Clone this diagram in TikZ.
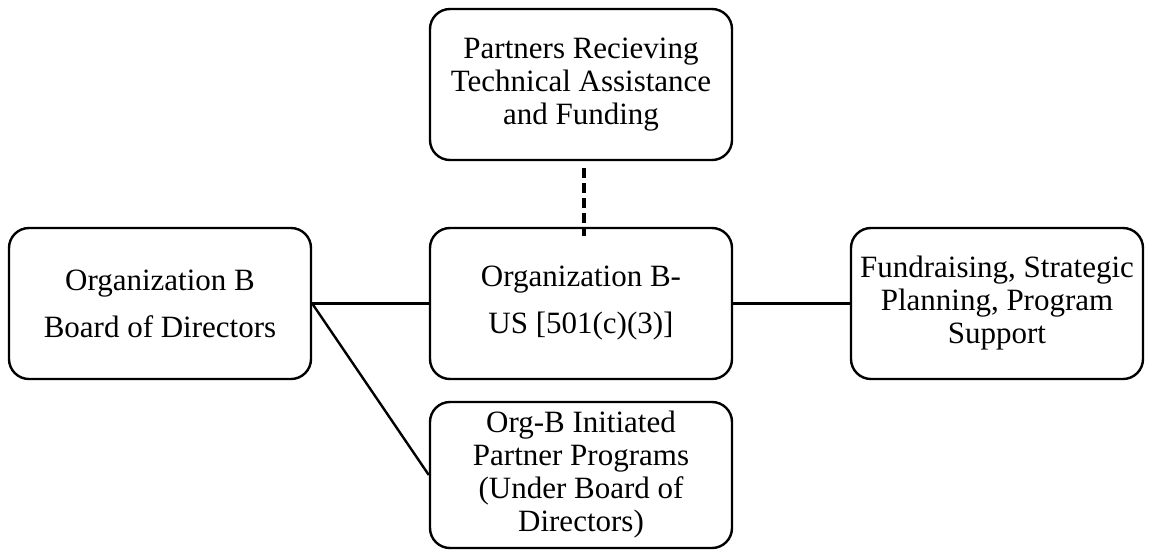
\documentclass[tikz,border=0pt]{standalone}
\usepackage{fontspec}
\setmainfont{Liberation Serif}
\begin{document}
\begin{tikzpicture}[x=0.5pt,y=-0.5pt,
  box/.style={draw=black, line width=1.2pt, rounded corners=10pt, fill=white,
    align=center, inner sep=0pt, font=\fontsize{15.5}{16.5}\selectfont},
  widebox/.style={box, font=\fontsize{15.5}{23.5}\selectfont},
  link/.style={draw=black, line width=1.2pt},
  dashlink/.style={draw=black, line width=1.6pt, dash pattern=on 5pt off 2.5pt}]
  \useasboundingbox (0,0) rectangle (1152,554);

  \node[box, minimum width=151pt, minimum height=75.5pt] (partners) at (581,84.5)
    {Partners Recieving\\Technical Assistance\\and Funding};
  \node[widebox, minimum width=151pt, minimum height=75.5pt] (board) at (160,303.5)
    {Organization B\\Board of Directors};
  \node[widebox, minimum width=151pt, minimum height=75.5pt] (orgus) at (581,303.5)
    {Organization B-\\US [501(c)(3)]};
  \node[box, minimum width=146pt, minimum height=75.5pt] (fund) at (997,303.5)
    {Fundraising, Strategic\\Planning, Program\\Support};
  \node[box, minimum width=151pt, minimum height=73pt] (programs) at (581,475)
    {Org-B Initiated\\Partner Programs\\(Under Board of\\Directors)};

  \draw[link] (board.east) -- (orgus.west);
  \draw[link] (orgus.east) -- (fund.west);
  \draw[link] (board.east) -- (programs.west);
  \draw[dashlink] ([xshift=1.5pt,yshift=-3.5pt]partners.south) -- ([xshift=1.5pt,yshift=-4.5pt]orgus.north);
\end{tikzpicture}
\end{document}
